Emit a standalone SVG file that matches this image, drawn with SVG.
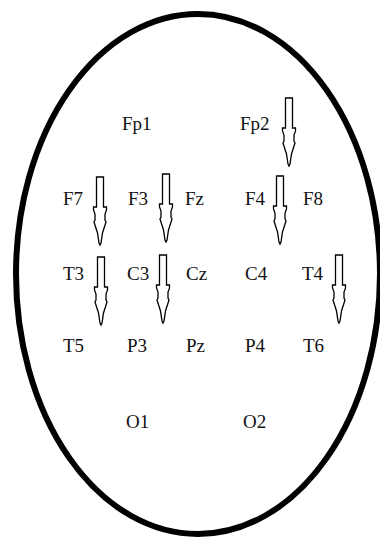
<svg xmlns="http://www.w3.org/2000/svg" xmlns:xlink="http://www.w3.org/1999/xlink" width="380" height="540" viewBox="0 0 380 540">
<style>
text{font-family:'Liberation Serif','Times New Roman',Times,serif;font-size:19px;fill:#111}
.head{fill:none;stroke:#000;stroke-width:6}
.arr{fill:#fff;stroke:#000;stroke-width:1.3;stroke-linejoin:miter}
</style>
<defs>
<path id="arrow" class="arr" d="M -3.5,0 H 3.5 V 30 H 6.5 V 33 L 5,37 V 43 L 6,45 L 2.5,56 L 1,66 L 0,68 L -1,66 L -2.5,56 L -6,45 L -5,43 V 37 L -6.5,33 V 30 H -3.5 Z"/>
</defs>
<rect x="0" y="0" width="380" height="540" fill="#fff"/>
<ellipse id="head" class="head" cx="198" cy="274" rx="182" ry="260"/>
<g id="connectors">
<use xlink:href="#arrow" transform="translate(289,98)"/>
<use xlink:href="#arrow" transform="translate(100,177)"/>
<use xlink:href="#arrow" transform="translate(166,174)"/>
<use xlink:href="#arrow" transform="translate(280,176)"/>
<use xlink:href="#arrow" transform="translate(101,257)"/>
<use xlink:href="#arrow" transform="translate(163,255)"/>
<use xlink:href="#arrow" transform="translate(339,255)"/>
</g>
<g id="Fp1"><text x="122" y="130" font-family="Liberation Serif, serif">Fp1</text></g>
<g id="Fp2"><text x="240" y="130" font-family="Liberation Serif, serif">Fp2</text></g>
<g id="F7"><text x="63" y="205" font-family="Liberation Serif, serif">F7</text></g>
<g id="F3"><text x="128" y="205" font-family="Liberation Serif, serif">F3</text></g>
<g id="Fz"><text x="185" y="205" font-family="Liberation Serif, serif">Fz</text></g>
<g id="F4"><text x="245" y="205" font-family="Liberation Serif, serif">F4</text></g>
<g id="F8"><text x="303" y="205" font-family="Liberation Serif, serif">F8</text></g>
<g id="T3"><text x="63" y="280" font-family="Liberation Serif, serif">T3</text></g>
<g id="C3"><text x="127" y="280" font-family="Liberation Serif, serif">C3</text></g>
<g id="Cz"><text x="186" y="280" font-family="Liberation Serif, serif">Cz</text></g>
<g id="C4"><text x="245" y="280" font-family="Liberation Serif, serif">C4</text></g>
<g id="T4"><text x="302" y="280" font-family="Liberation Serif, serif">T4</text></g>
<g id="T5"><text x="63" y="352" font-family="Liberation Serif, serif">T5</text></g>
<g id="P3"><text x="127" y="352" font-family="Liberation Serif, serif">P3</text></g>
<g id="Pz"><text x="186" y="352" font-family="Liberation Serif, serif">Pz</text></g>
<g id="P4"><text x="245" y="352" font-family="Liberation Serif, serif">P4</text></g>
<g id="T6"><text x="303" y="352" font-family="Liberation Serif, serif">T6</text></g>
<g id="O1"><text x="126" y="428" font-family="Liberation Serif, serif">O1</text></g>
<g id="O2"><text x="243" y="428" font-family="Liberation Serif, serif">O2</text></g>
</svg>
